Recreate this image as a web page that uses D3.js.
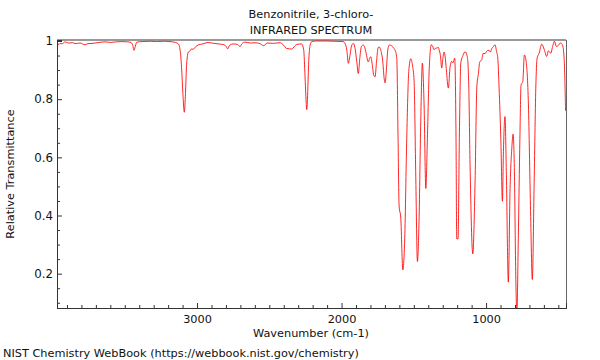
<!DOCTYPE html>
<html>
<head>
<meta charset="utf-8">
<script src="https://cdn.jsdelivr.net/npm/d3@7"></script>
<style>
  html, body { margin: 0; padding: 0; background: #fff; }
  svg { display: block; font-family: "DejaVu Sans", sans-serif; }
</style>
</head>
<body>
<svg id="chart" width="600" height="360"></svg>
<script>
const titleLines = ["Benzonitrile, 3-chloro-", "INFRARED SPECTRUM"];
const xLabel = "Wavenumber (cm-1)";
const yLabel = "Relative Transmittance";
const footer = "NIST Chemistry WebBook (https://webbook.nist.gov/chemistry)";
const xTickValues = [3000, 2000, 1000];
const yTickValues = [0.2, 0.4, 0.6, 0.8, 1];
const yTickLabels = ["0.2", "0.4", "0.6", "0.8", "1"];

const wavenumbers = [
  3969,3955,3948,3935,3913,3890,3860,3844,3810,3775,3754,3720,3690,3637,3600,3560,3521,3480,3457,3445,
  3436,3427,3417,3380,3325,3280,3230,3187,3150,3129,3115,3106,3098,3088,3080,3072,3060,3050,3040,3026,
  3010,2993,2960,2924,2900,2855,2820,2800,2788,2775,2750,2720,2702,2690,2668,2630,2599,2560,2541,2525,
  2518,2470,2426,2400,2379,2360,2345,2325,2310,2276,2262,2253,2245,2241,2236,2228,2218,2206,2172,2100,
  2050,1990,1975,1964,1953,1942,1930,1918,1905,1895,1884,1874,1862,1849,1835,1825,1815,1806,1798,1788,
  1776,1768,1758,1748,1740,1730,1715,1705,1699,1690,1680,1669,1655,1640,1630,1618,1609,1602,1590,1576,
  1563,1549,1535,1521,1510,1498,1487,1475,1464,1452,1441,1429,1417,1406,1394,1379,1370,1360,1350,1341,
  1330,1325,1316,1307,1299,1291,1283,1275,1261,1249,1237,1230,1222,1217,1208,1203,1194,1185,1175,1160,
  1145,1130,1120,1111,1092,1076,1064,1053,1044,1030,1021,1007,998,990,980,970,961,950,938,928,
  919,910,898,887,880,869,860,846,834,822,813,804,795,787,777,766,758,746,735,723,
  707,693,680,668,656,647,633,615,597,581,569,552,541,527,513,500,486,472,460,450
];
const transmittance = [
  0.995,0.988,0.992,0.990,0.997,0.993,0.994,0.991,0.993,0.987,0.991,0.992,0.994,0.997,0.995,0.997,0.998,0.997,0.995,0.985,
  0.968,0.982,0.996,0.998,0.999,0.998,0.999,0.998,0.995,0.990,0.960,0.900,0.820,0.755,0.820,0.920,0.962,0.965,0.972,0.972,
  0.980,0.986,0.990,0.995,0.993,0.990,0.988,0.982,0.973,0.985,0.990,0.988,0.981,0.990,0.996,0.993,0.994,0.990,0.984,0.988,
  0.993,0.992,0.994,0.985,0.974,0.973,0.972,0.982,0.988,0.990,0.970,0.880,0.790,0.764,0.800,0.920,0.985,0.998,1.000,1.000,
  0.999,0.998,0.990,0.970,0.923,0.950,0.985,0.992,0.970,0.930,0.888,0.940,0.982,0.986,0.970,0.945,0.928,0.940,0.946,0.920,
  0.880,0.877,0.930,0.975,0.980,0.970,0.930,0.870,0.856,0.900,0.970,0.986,0.984,0.976,0.969,0.941,0.665,0.435,0.389,0.213,
  0.320,0.665,0.895,0.939,0.918,0.862,0.551,0.242,0.379,0.724,0.924,0.780,0.493,0.665,0.895,0.987,0.982,0.970,0.975,0.976,
  0.978,0.970,0.950,0.907,0.940,0.962,0.945,0.901,0.838,0.912,0.930,0.925,0.935,0.941,0.665,0.320,0.320,0.665,0.924,0.950,
  0.963,0.946,0.850,0.578,0.268,0.520,0.842,0.888,0.928,0.935,0.957,0.957,0.963,0.967,0.968,0.962,0.974,0.980,0.987,0.965,
  0.941,0.838,0.665,0.449,0.620,0.740,0.551,0.171,0.493,0.631,0.680,0.551,0.207,0.060,0.320,0.665,0.849,0.861,0.952,0.930,
  0.780,0.435,0.180,0.493,0.838,0.941,0.958,0.989,0.970,0.947,0.966,0.958,0.978,0.999,0.981,0.985,0.993,0.987,0.941,0.760
];

const data = wavenumbers.map((w, i) => ({ w, t: transmittance[i] }));

const svg = d3.select("#chart");
const pLeft = 57, pRight = 566, pTop = 40, pBottom = 308;
const fs = 11.3;

const x = d3.scaleLinear().domain([3969, 447]).range([pLeft, pRight]);
const y = d3.scaleLinear().domain([0.082, 1.0034]).range([pBottom, pTop]);

// frame: top (gray) and right
svg.append("line").attr("x1", pLeft).attr("x2", pRight).attr("y1", pTop).attr("y2", pTop)
  .attr("stroke", "#9a9a9a").attr("stroke-width", 2);
svg.append("line").attr("x1", pRight + 0.5).attr("x2", pRight + 0.5).attr("y1", pTop).attr("y2", pBottom)
  .attr("stroke", "#666").attr("stroke-width", 1);

// clip
svg.append("defs").append("clipPath").attr("id", "clip")
  .append("rect").attr("x", pLeft).attr("y", pTop).attr("width", pRight - pLeft).attr("height", pBottom - pTop);

const line = d3.line().x(d => x(d.w)).y(d => y(d.t)).curve(d3.curveMonotoneX);
svg.append("path").datum(data)
  .attr("clip-path", "url(#clip)")
  .attr("d", line)
  .attr("fill", "none")
  .attr("stroke", "#ff0000")
  .attr("stroke-width", 1)
  .attr("stroke-opacity", 0.85);

// Y axis
const yMinor = d3.range(0.1, 1.0001, 0.05).filter(v => Math.abs(Math.round(v * 5) - v * 5) > 1e-6);
const yAxisMinor = d3.axisLeft(y).tickValues(yMinor).tickSize(-3).tickFormat("");
const yAxis = d3.axisLeft(y).tickValues(yTickValues).tickSize(-5).tickPadding(4)
  .tickFormat((d, i) => yTickLabels[i]);
const gy2 = svg.append("g").attr("transform", `translate(${pLeft},0)`).call(yAxisMinor);
const gy = svg.append("g").attr("transform", `translate(${pLeft},0)`).call(yAxis);
[gy, gy2].forEach(g => {
  g.select(".domain").attr("stroke", "#333");
  g.selectAll(".tick line").attr("stroke", "#333");
});
gy.selectAll(".tick text").attr("font-size", fs + 0.5).attr("fill", "#111")
  .attr("font-family", "DejaVu Sans, sans-serif");

// X axis
const xMinor = d3.range(500, 3901, 100).filter(v => v % 1000 !== 0);
const xAxisMinor = d3.axisBottom(x).tickValues(xMinor).tickSize(-3).tickFormat("");
const xAxis = d3.axisBottom(x).tickValues(xTickValues).tickSize(-5).tickPadding(7)
  .tickFormat(d3.format("d"));
const gx2 = svg.append("g").attr("transform", `translate(0,${pBottom})`).call(xAxisMinor);
const gx = svg.append("g").attr("transform", `translate(0,${pBottom})`).call(xAxis);
[gx, gx2].forEach(g => {
  g.select(".domain").attr("stroke", "#333");
  g.selectAll(".tick line").attr("stroke", "#333");
});
gx.selectAll(".tick text").attr("font-size", fs).attr("fill", "#111")
  .attr("font-family", "DejaVu Sans, sans-serif");

// titles
svg.append("text").attr("x", 311).attr("y", 17.5).attr("text-anchor", "middle")
  .attr("font-size", fs).attr("fill", "#111").text(titleLines[0]);
svg.append("text").attr("x", 311).attr("y", 34).attr("text-anchor", "middle")
  .attr("font-size", fs).attr("fill", "#111").text(titleLines[1]);

svg.append("text").attr("x", 311).attr("y", 336.5).attr("text-anchor", "middle")
  .attr("font-size", fs).attr("fill", "#111").text(xLabel);

svg.append("text").attr("transform", "translate(14,174) rotate(-90)").attr("text-anchor", "middle")
  .attr("font-size", fs).attr("fill", "#111").text(yLabel);

svg.append("text").attr("x", 3).attr("y", 357)
  .attr("font-size", fs).attr("fill", "#111").text(footer);
</script>
</body>
</html>
